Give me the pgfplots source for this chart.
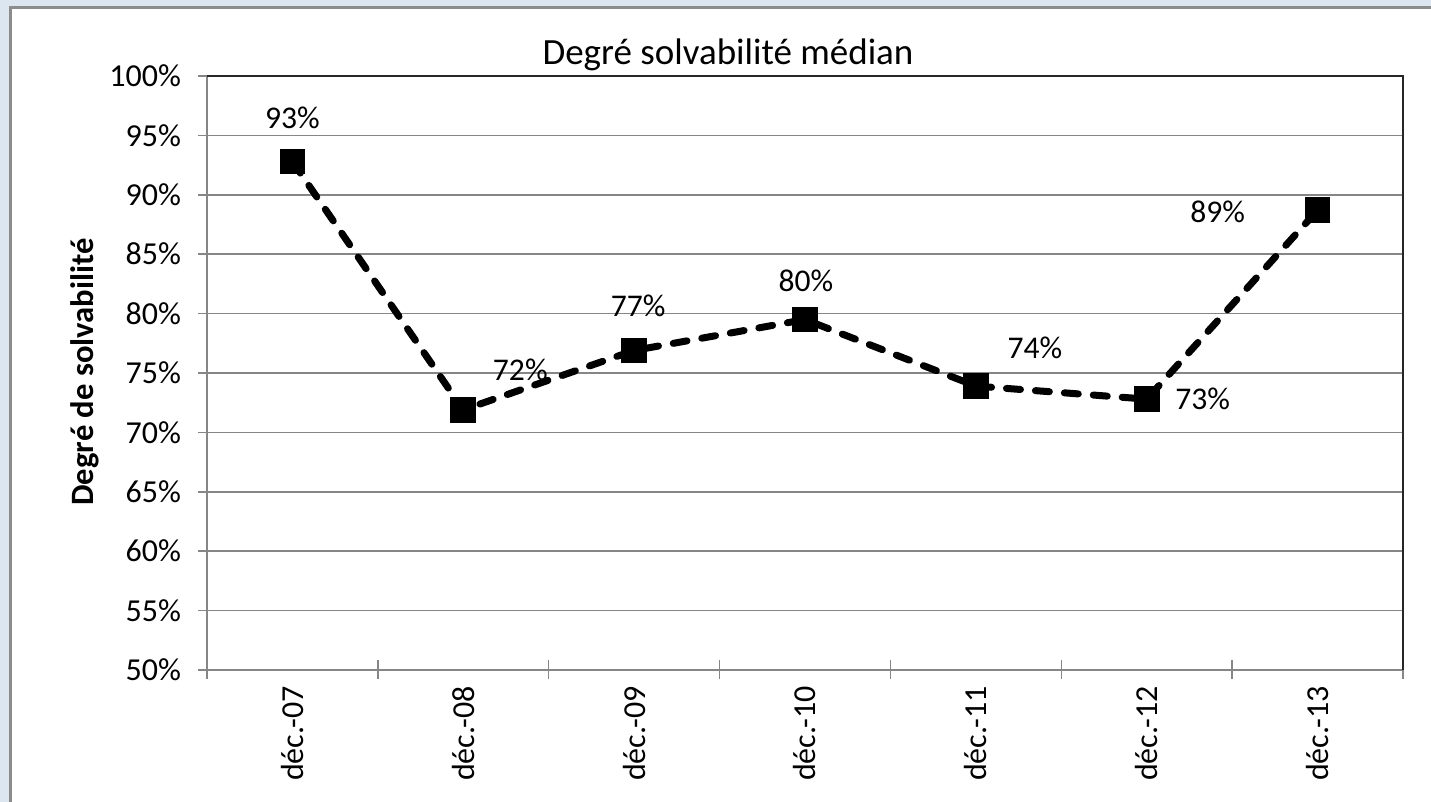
\documentclass[border=0pt]{standalone}
\usepackage{fontspec}
\setmainfont{Carlito}
\usepackage{pgfplots}
\pgfplotsset{compat=1.18}
\usepackage{pgfplotstable}
\definecolor{bgblue}{RGB}{220,230,241}
\definecolor{gridgray}{RGB}{134,134,134}
\definecolor{framegray}{RGB}{140,140,140}

\pgfplotstableread{
x y lab dx dy
0 92.8 93 0 22
1 71.9 72 28.5 20
2 76.9 77 2 22.5
3 79.5 80 0.5 19.5
4 73.9 74 29.5 19
5 72.8 73 28 0
6 88.7 89 -50 -1
}\data

\begin{document}
\begin{tikzpicture}
\useasboundingbox (0bp,0bp) rectangle (715.5bp,401bp);
\clip (0bp,0bp) rectangle (715.5bp,401bp);
\fill[bgblue] (0bp,0bp) rectangle (715.5bp,401bp);
\draw[framegray, line width=1.5bp, fill=white] (5.25bp,-10bp) rectangle (730bp,397bp);
\node[font=\fontsize{18.5bp}{22bp}\selectfont] at (364bp,373.5bp) {Degré solvabilité médian};
\node[font=\bfseries\fontsize{16.3bp}{19bp}\selectfont, rotate=90] at (42.5bp,215bp) {Degré de solvabilité};
\begin{axis}[
  at={(103.5bp,66bp)}, anchor=south west,
  width=598bp, height=297bp, scale only axis,
  xmin=-0.5, xmax=6.5, ymin=50, ymax=100,
  axis x line*=bottom, axis y line*=left,
  axis line style={-, gridgray, line width=0.75bp},
  xtick={0,...,6},
  xticklabels={déc.-07,déc.-08,déc.-09,déc.-10,déc.-11,déc.-12,déc.-13},
  major x tick style={draw=none},
  minor xtick={-0.5,0.5,...,6.5},
  minor tick length=9.5bp,
  minor x tick style={yshift=5bp, gridgray, line width=0.75bp},
  ytick={50,55,...,100},
  major tick length=4.5bp, tick align=outside,
  ytick style={gridgray, line width=0.75bp},
  ymajorgrids, major grid style={gridgray, line width=0.75bp},
  yticklabel={\pgfmathprintnumber{\tick}\%},
  /pgf/number format/assume math mode=true,
  every tick label/.append style={font=\fontsize{16bp}{18bp}\selectfont, black},
  yticklabel style={xshift=-5bp},
  xticklabel style={rotate=90, anchor=east},
  clip=false,
]
\addplot[black, line width=3.5bp, dash pattern=on 7bp off 7.5bp, line cap=round,
  mark=square*, mark size=6.2bp, mark options={solid, fill=black, line width=0.5bp},
  point meta=explicit,
  visualization depends on={\thisrow{dx} \as \dx},
  visualization depends on={\thisrow{dy} \as \dy},
  nodes near coords={\pgfmathprintnumber{\pgfplotspointmeta}\%},
  every node near coord/.append style={anchor=center, xshift=\dx bp, yshift=\dy bp,
    font=\fontsize{15.8bp}{18bp}\selectfont, black},
] table[x=x, y=y, meta=lab] {\data};
\draw[black!85, line width=1bp] (rel axis cs:0,1) -- (rel axis cs:1,1) -- (rel axis cs:1,0);
\end{axis}
\end{tikzpicture}
\end{document}
